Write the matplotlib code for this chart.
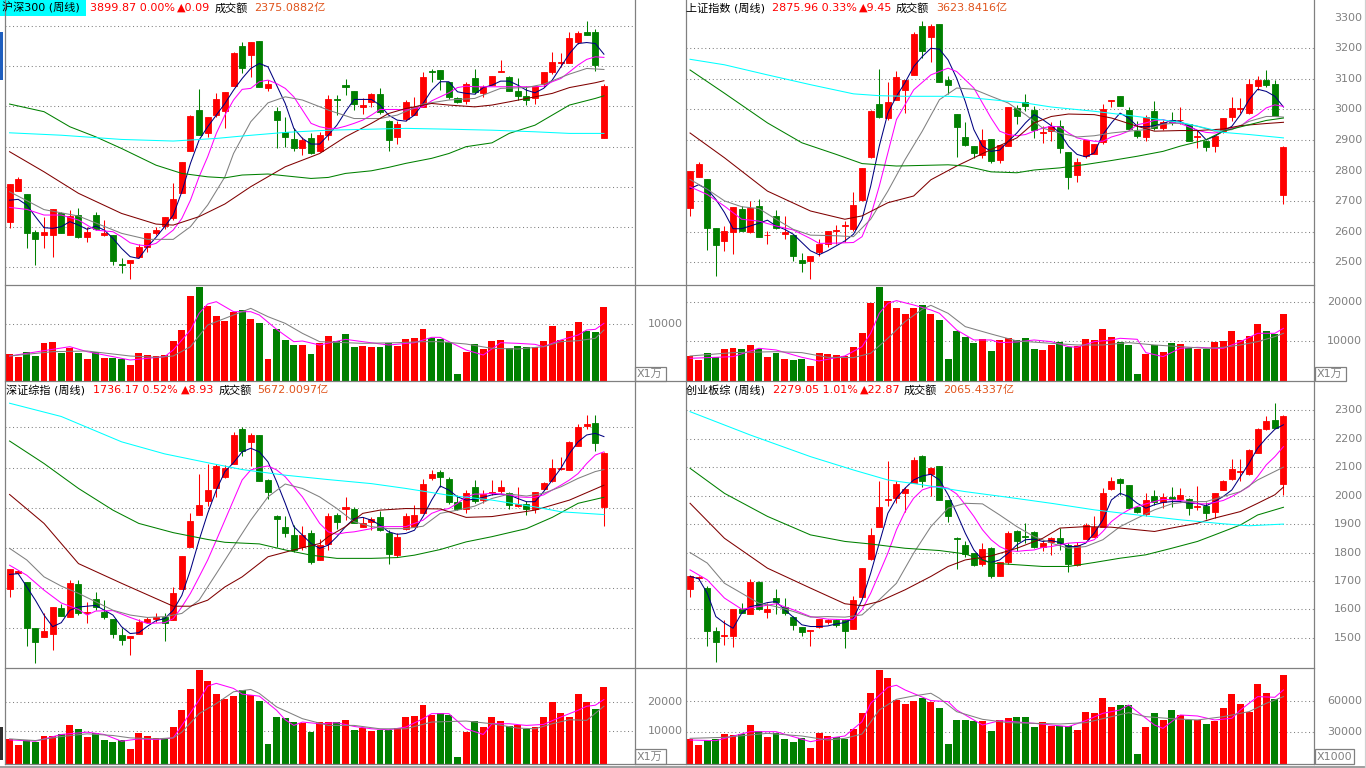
import numpy as np
import matplotlib.pyplot as plt
from matplotlib.lines import Line2D
from matplotlib.patches import Rectangle
from matplotlib.transforms import blended_transform_factory

# ---------------- 沪深300 (周线) ----------------
hs_open = [3227,3381,3364,3174,3160,3160,3268,3160,3260,3149,3260,3159,3160,3018,3023,3049,3099,3172,3205,3243,
           3371,3580,3782,3669,3757,3777,3901,4102,4055,4125,3894,3777,3672,3636,3593,3644,3580,3657,3835,3905,
           3876,3795,3820,3860,3727,3649,3737,3757,3798,3976,3979,3924,3840,3828,3944,3868,3909,3971,3947,3876,
           3851,3840,3911,3972,4015,4017,4121,4171,4170,3644]
hs_high = [3414,3450,3364,3185,3248,3288,3276,3285,3293,3202,3276,3235,3160,3044,3036,3116,3172,3202,3248,3417,
           3522,3757,3885,3749,3865,3871,4072,4122,4122,4125,3931,3795,3749,3691,3649,3666,3674,3856,3856,3939,
           3876,3840,3865,3890,3732,3729,3832,3848,3972,3984,3979,3924,3848,3923,3984,3906,3954,4030,3951,3944,
           3901,3901,3971,4069,4064,4171,4175,4226,4183,3911]
hs_low = [3194,3381,3094,3011,3094,3053,3169,3160,3144,3127,3185,3155,3011,2970,2940,3044,3078,3160,3189,3235,
          3368,3580,3658,3649,3749,3691,3901,3964,3948,3895,3878,3591,3600,3580,3558,3566,3575,3633,3757,3856,
          3782,3765,3798,3765,3580,3613,3729,3757,3798,3923,3880,3835,3815,3812,3861,3848,3906,3971,3878,3832,
          3807,3812,3898,3961,3997,4014,4113,4156,3977,3644]
hs_close = [3414,3439,3172,3139,3174,3288,3169,3255,3149,3177,3189,3169,3033,3012,3036,3099,3172,3185,3248,3338,
            3522,3752,3658,3749,3835,3871,4067,3989,4122,3895,3914,3732,3649,3593,3633,3571,3657,3837,3832,3898,
            3812,3805,3860,3770,3633,3712,3823,3798,3949,3972,3936,3848,3820,3911,3873,3898,3954,3976,3878,3851,
            3832,3901,3971,4020,4019,4143,4165,4156,4007,3901]
hs_vol = [4641,4046,4998,4284,6664,6783,4879,5653,4879,3749,5058,3927,3987,3749,2678,4820,4403,4284,4403,6962,
          8925,14994,16660,13209,11424,10532,12138,12495,10889,10234,3749,9104,7140,6248,6248,4641,6664,7854,6962,8271,
          5950,6069,5950,5950,6545,6129,7319,7497,9104,7557,7319,6843,1071,5058,6426,5593,6962,7140,5653,6069,
          5950,5950,6962,9639,7140,8747,10353,8747,8509,13090]
hs_ma5 = [3334,3338,3310,3252,3197,3194,3202,3227,3210,3189,3205,3185,3144,3094,3053,3044,3102,3149,3202,3260,
          3376,3517,3633,3699,3757,3815,3881,3939,3989,4014,3997,3906,3815,3691,3641,3613,3613,3658,3707,3774,
          3835,3835,3835,3807,3757,3732,3727,3757,3815,3881,3923,3923,3873,3865,3861,3894,3906,3926,3926,3906,
          3881,3868,3890,3931,3997,4063,4113,4118,4113,4060]
hs_ma10_x = [0,2,4,6,8,10,12] + list(range(13, 70))
hs_ma10 = [3298,3288,3260,3260,3235,3185,3177,
           3152,3122,3111,3107,3119,3152,3185,3243,3334,3450,3550,3666,3757,3832,3885,3890,3923,3931,3914,3890,
           3848,3782,3716,3699,3691,3691,3702,3716,3732,3757,3785,3785,3785,3782,3790,3798,3828,3848,3868,3894,
           3901,3898,3898,3898,3898,3898,3898,3898,3898,3901,3923,3939,3972,4006,4034,4047,4044]
hs_ma20_x = [0,4,8,13,16,19,21,23,25,26,28,30,32,34,37,40,43,45,48,51,54,57,60,62,65,67,69]
hs_ma20 = [3376,3287,3255,3169,3139,3139,3202,3310,3450,3566,3724,3818,3848,3832,3782,3740,3740,3757,3812,3832,
           3840,3890,3894,3911,3961,3989,3984]
hs_ma60_x = [0,4,8,13,17,19,22,25,28,32,36,39,42,44,46,49,51,54,56,58,61,63,65,68,69]
hs_ma60 = [3575,3475,3368,3268,3215,3210,3252,3315,3401,3500,3566,3649,3716,3765,3790,3815,3807,3798,3807,3823,
           3848,3865,3894,3918,3928]
hs_ma120_x = [0,4,7,10,13,17,20,23,25,27,30,32,35,37,39,42,44,46,49,51,53,56,58,61,63,65,68,69]
hs_ma120 = [3812,3774,3699,3649,3591,3508,3467,3450,3445,3459,3464,3455,3442,3447,3467,3480,3497,3517,3542,3566,
            3600,3619,3666,3707,3757,3807,3840,3853]
hs_ma250_x = [0,6,13,19,24,27,32,37,42,46,51,56,61,65,69]
hs_ma250 = [3669,3657,3636,3628,3641,3653,3671,3682,3687,3691,3687,3682,3674,3666,3666]
hs_vma5_x = [0,7,9,14,18,19,21,22,23,24,26,28,29,31,33,34,36,39,41,44,47,49,50,53,55,57,59,61,62,64,66,67,68,69]
hs_vma5 = [4284,5950,5058,3570,4165,5355,8925,11900,13566,13983,12198,12198,11603,9044,6843,6962,6248,7259,6843,6248,
           6664,7616,7616,5355,4463,6664,6545,6367,5950,7140,8033,8925,9044,10115]
hs_vma10_x = [0,5,9,14,17,19,21,23,26,28,30,32,34,36,41,45,48,50,53,56,59,62,64,66,68,69]
hs_vma10 = [4284,5058,5177,4284,4046,4284,5950,9818,11603,12793,11305,10115,8330,6843,6545,6664,6843,6843,6426,5653,
            5534,5950,6843,7021,7438,8925]

# ---------------- 上证指数 (周线) ----------------
sh_open = [2678,2779,2771,2613,2570,2600,2673,2600,2685,2588,2652,2594,2591,2509,2503,2535,2559,2603,2618,2608,
           2703,2844,3019,2971,3030,3062,3114,3273,3236,3279,3095,2986,2909,2879,2850,2904,2836,2882,3005,3024,
           2999,2924,2929,2947,2860,2785,2847,2853,2893,3027,3044,2999,2931,2910,2996,2939,2964,2964,2954,2909,
           2896,2880,2931,2974,3003,2988,3077,3095,3084,2720]
sh_high = [2800,2829,2771,2613,2619,2681,2684,2701,2706,2603,2671,2650,2591,2532,2520,2578,2602,2623,2635,2730,
           2807,2999,3132,3091,3126,3095,3254,3289,3278,3279,3110,2986,2958,2879,2936,2904,2885,3007,3014,3050,
           3012,2945,2958,2967,2860,2842,2901,2888,3019,3032,3044,3008,2961,2981,3028,2967,2993,3008,2954,2934,
           2901,2914,2971,3040,3037,3099,3108,3129,3097,2880]
sh_low = [2650,2779,2541,2456,2538,2527,2603,2597,2583,2559,2608,2576,2505,2469,2445,2521,2549,2559,2565,2603,
          2700,2842,2972,2967,3030,2990,3114,3167,3155,3089,3051,2844,2880,2842,2842,2825,2825,2880,2952,2994,
          2907,2891,2896,2856,2739,2762,2842,2853,2888,3008,3010,2932,2906,2896,2934,2932,2950,2953,2896,2874,
          2863,2860,2923,2961,2988,2985,3062,3075,2980,2690]
sh_close = [2800,2823,2612,2557,2602,2681,2603,2679,2583,2591,2614,2600,2521,2497,2520,2559,2602,2606,2621,2686,
            2807,2996,2974,3025,3106,3095,3247,3191,3273,3089,3081,2942,2885,2857,2901,2831,2885,3007,2980,3012,
            2934,2927,2947,2874,2779,2828,2901,2888,3001,3032,3010,2935,2912,2975,2939,2958,2958,2967,2896,2912,
            2878,2914,2971,3005,3006,3084,3095,3079,2980,2876]
sh_vol = [6239,5214,7009,5897,8034,8291,8120,9060,8034,5983,7009,5470,5214,5470,3675,7009,6752,6410,6239,8547,
          12137,19829,24017,20342,18547,17009,18632,19316,17009,15470,5470,12650,11026,9573,10513,7521,10342,10855,10256,10855,
          8034,7778,8974,9829,8547,8803,10598,10256,13162,11026,9829,9060,1624,6752,8974,7265,9573,9316,8291,7949,
          8034,9829,10085,12650,10342,11368,14444,12650,11966,17096]
sh_ma5 = [2741,2754,2739,2706,2663,2610,2610,2619,2628,2638,2619,2608,2592,2565,2538,2525,2538,2554,2570,2592,
          2641,2749,2880,2988,3043,3088,3140,3173,3200,3197,3162,3102,3026,2934,2880,2863,2867,2896,2923,2956,
          2983,2967,2947,2923,2880,2853,2845,2858,2918,2956,2988,2972,2945,2943,2947,2954,2964,2961,2945,2931,
          2901,2912,2929,2945,2983,3032,3066,3059,3043,3008]
sh_ma10_x = [0,2,4,6,8,10,12,14,15,17,19,20,21,22,23,24,26,28,30,31] + list(range(33, 70))
sh_ma10 = [2747,2722,2684,2641,2635,2619,2606,2578,2562,2563,2565,2584,2652,2749,2858,2967,3064,3113,3135,3124,
           3070,3021,2972,2929,2918,2914,2918,2929,2939,2945,2943,2923,2907,2901,2896,2896,2910,2918,2929,2950,
           2956,2964,2967,2958,2954,2943,2932,2925,2923,2929,2939,2945,2967,2983,3005,3015,3010]
sh_ma20_x = [0,2,4,6,8,10,12,14,17,19,21,23,25,27,29,31,33,35,37,39,41,43,45,47,49,51,53,55,57,59,61,63,65,67,68,69]
sh_ma20 = [2771,2739,2701,2682,2676,2641,2608,2589,2587,2584,2641,2733,2836,2929,3032,3070,3066,3043,3021,2983,
           2939,2923,2910,2914,2923,2929,2934,2952,2956,2945,2929,2934,2961,2977,2977,2975]
sh_ma60_x = [0,4,9,14,18,20,23,26,28,31,35,38,40,42,44,47,49,52,54,57,59,62,64,67,69]
sh_ma60 = [2923,2842,2733,2668,2641,2652,2695,2717,2770,2815,2869,2907,2956,2977,2985,2983,2972,2945,2929,2931,
           2931,2936,2947,2954,2958]
sh_ma120_x = [0,4,9,13,17,20,24,27,30,32,35,38,40,43,46,49,52,55,57,60,62,65,67,69]
sh_ma120 = [3129,3053,2956,2891,2853,2823,2815,2817,2819,2815,2796,2793,2802,2809,2820,2833,2847,2863,2880,2901,
            2929,2950,2964,2972]
sh_ma250_x = [0,4,9,14,19,22,25,30,32,35,39,42,47,52,57,60,62,65,69]
sh_ma250 = [3164,3146,3113,3081,3051,3045,3043,3043,3040,3032,3021,3008,2994,2977,2958,2939,2925,2918,2907]
sh_vma5_x = [0,5,8,10,13,15,18,20,21,22,23,24,26,28,29,31,33,35,36,38,40,42,44,45,47,49,50,52,53,55,57,59,61,62,64,66,68,69]
sh_vma5 = [5641,6068,8205,7778,5897,4957,6239,8632,12051,17179,19744,20427,19316,18034,17179,12906,10342,10342,9658,9829,
           10342,9914,8632,8462,9914,10342,10769,10513,7094,6068,8205,8462,8205,8205,9914,12051,12051,13333]
sh_vma10_x = [0,5,10,13,16,19,21,23,25,27,28,30,32,35,38,42,45,48,51,54,57,60,62,64,66,68,69]
sh_vma10 = [6239,7094,7350,7094,5897,5812,6923,10769,15043,18205,19231,17179,13761,11880,10085,9487,9060,9060,9658,9060,
            8632,8205,8462,9060,9914,11197,12051]

# ---------------- 深证综指 (周线) ----------------
sz_open = [1398,1437,1416,1300,1279,1285,1350,1327,1410,1339,1374,1341,1324,1283,1275,1287,1315,1324,1327,1320,
           1399,1503,1582,1617,1650,1676,1709,1796,1764,1781,1669,1579,1553,1532,1503,1536,1471,1510,1582,1598,
           1598,1553,1565,1576,1536,1482,1546,1553,1586,1673,1689,1671,1615,1598,1651,1619,1636,1641,1636,1605,
           1609,1598,1647,1666,1697,1694,1754,1803,1810,1602]
sz_high = [1447,1445,1416,1300,1337,1352,1360,1420,1420,1366,1390,1370,1324,1302,1280,1324,1329,1337,1337,1403,
           1480,1586,1685,1710,1710,1706,1789,1800,1785,1781,1671,1582,1579,1557,1554,1544,1521,1586,1588,1626,
           1601,1576,1578,1593,1544,1538,1588,1607,1671,1694,1695,1677,1632,1644,1669,1644,1669,1669,1640,1651,
           1617,1640,1665,1720,1725,1766,1808,1831,1831,1739]
sz_low = [1378,1437,1256,1214,1279,1247,1330,1327,1333,1314,1345,1324,1277,1258,1233,1287,1312,1316,1269,1320,
          1399,1503,1582,1604,1627,1673,1709,1729,1704,1667,1621,1503,1528,1490,1495,1461,1470,1495,1546,1569,
          1561,1551,1544,1543,1461,1478,1544,1553,1586,1669,1652,1609,1594,1588,1611,1612,1632,1636,1598,1602,
          1582,1588,1644,1665,1694,1694,1754,1795,1742,1554]
sz_close = [1447,1442,1300,1266,1293,1352,1330,1412,1337,1341,1354,1327,1285,1272,1280,1316,1323,1327,1312,1389,
            1480,1567,1607,1644,1704,1698,1781,1742,1781,1667,1640,1571,1536,1496,1532,1466,1507,1579,1565,1601,
            1563,1563,1573,1544,1485,1528,1579,1582,1658,1683,1677,1615,1598,1636,1617,1634,1640,1651,1607,1609,
            1596,1640,1661,1700,1700,1764,1800,1808,1760,1736]
sz_vol = [7418,5620,7194,6519,8655,8542,8992,12027,10678,8093,9329,7306,6407,7194,4271,9329,8655,7868,7643,11352,
          17085,24166,30573,26864,22480,20794,21806,23829,22030,20120,5957,14724,14387,13038,12701,9666,13038,13038,13038,13713,
          10341,11015,10004,10341,10341,11015,14724,15062,18771,15399,16298,15399,1574,9666,13376,11352,14724,13376,11690,12027,
          10678,11465,14724,19782,16073,14724,22480,19782,17422,24953]
sz_ma5 = [1434,1436,1403,1370,1333,1304,1314,1345,1353,1355,1357,1345,1333,1304,1287,1289,1305,1319,1324,1345,
          1382,1445,1519,1586,1644,1690,1712,1739,1748,1739,1714,1665,1611,1553,1532,1511,1499,1507,1528,1553,
          1573,1576,1569,1557,1540,1534,1536,1544,1578,1619,1654,1644,1627,1619,1621,1626,1632,1634,1632,1623,
          1615,1615,1640,1669,1698,1735,1764,1781,1785,1777]
sz_ma10_x = [0,2,4,6,8,9,10,12,14,16,18] + list(range(19, 70))
sz_ma10 = [1457,1432,1395,1363,1347,1333,1343,1344,1327,1312,1314,
           1324,1353,1387,1428,1470,1519,1569,1619,1669,1694,1700,1704,1694,1677,1652,1627,1594,1561,1540,1534,
           1538,1540,1544,1548,1553,1553,1553,1553,1561,1569,1586,1594,1598,1611,1627,1634,1634,1636,1634,1632,
           1627,1626,1626,1632,1644,1656,1669,1685,1710,1731,1739]
sz_ma20_x = list(range(0, 70, 2)) + [69]
sz_ma20 = [1499,1470,1428,1405,1387,1366,1345,1333,1327,1329,1337,1370,1436,1503,1569,1627,1659,1648,1627,1598,
           1565,1553,1548,1548,1554,1586,1594,1604,1623,1634,1629,1636,1652,1673,1690,1695]
sz_ma60_x = [0,4,8,13,17,19,21,23,25,27,30,33,36,37,39,41,43,46,50,53,56,61,65,69]
sz_ma60 = [1633,1561,1461,1412,1374,1355,1355,1370,1403,1428,1478,1495,1511,1528,1553,1586,1594,1598,1597,1576,
           1578,1594,1619,1656]
sz_ma120_x = [0,4,8,12,15,19,23,25,29,32,35,38,42,45,47,50,53,56,60,63,66,69]
sz_ma120 = [1766,1710,1648,1594,1561,1538,1521,1514,1510,1495,1482,1474,1474,1476,1482,1496,1515,1528,1548,1576,
            1611,1626]
sz_ma250_x = [0,6,13,18,23,27,32,37,42,46,51,56,61,64,69]
sz_ma250 = [1860,1827,1764,1734,1712,1695,1681,1670,1660,1648,1631,1619,1602,1590,1583]
sz_vma5_x = [0,3,6,9,11,13,15,17,19,20,22,23,24,26,27,29,31,32,33,34,36,38,40,42,44,46,48,49,51,53,55,56,58,60,62,64,66,67,68,69]
sz_vma5 = [7194,6744,8992,9779,8992,6744,7531,7306,7868,12027,20457,25178,26077,24391,22480,21806,17085,13938,12027,13151,
           12589,12926,11690,10903,10566,11465,14275,15961,15961,10903,8992,12589,12589,12027,12364,14837,17085,18434,18771,20682]
sz_vma10_x = [0,3,6,9,12,14,17,19,20,22,24,26,28,29,31,34,37,40,43,46,49,53,56,59,61,63,65,67,69]
sz_vma10 = [7531,6969,8318,9217,8655,7868,7531,7868,9779,15961,19333,23267,24054,22705,18209,14275,12027,12027,10903,10903,
            13151,13488,12589,11128,10903,12589,13938,13713,18434]

# ---------------- 创业板综 (周线) ----------------
cy_open = [1671,1709,1676,1525,1505,1508,1603,1583,1696,1590,1640,1608,1575,1540,1525,1538,1557,1564,1564,1533,
           1645,1777,1888,1985,1993,2009,2046,2140,2076,2105,1985,1850,1827,1800,1760,1815,1718,1768,1876,1859,
           1873,1821,1838,1850,1827,1757,1849,1856,1891,2024,2058,2038,1959,1936,2000,1976,1994,1987,1989,1961,
           1965,1941,2020,2058,2083,2075,2151,2233,2266,2041]
cy_high = [1720,1716,1681,1540,1564,1601,1624,1706,1699,1624,1671,1640,1578,1540,1528,1566,1566,1566,1566,1648,
           1746,1886,2053,2120,2050,2030,2137,2143,2102,2105,1985,1854,1842,1800,1835,1821,1768,1874,1880,1905,
           1874,1845,1856,1886,1835,1836,1905,1929,2026,2067,2062,2038,1959,2009,2018,2009,2030,2026,1991,2034,
           1979,2009,2055,2128,2128,2164,2237,2280,2325,2283]
cy_low = [1645,1704,1473,1415,1476,1468,1587,1583,1599,1569,1585,1581,1528,1505,1472,1534,1550,1540,1464,1533,
          1643,1774,1888,1962,1973,1944,2044,2030,1997,1983,1909,1743,1786,1753,1753,1710,1716,1760,1807,1833,
          1815,1807,1792,1809,1730,1753,1847,1856,1891,2020,2003,1952,1938,1929,1968,1956,1959,1976,1932,1948,
          1917,1921,2018,2055,2050,2073,2149,2229,2237,2003]
cy_close = [1718,1713,1523,1487,1511,1601,1587,1697,1601,1602,1626,1587,1544,1520,1528,1566,1564,1546,1526,1634,
            1746,1862,1960,1987,2040,2023,2126,2050,2097,1985,1929,1847,1795,1757,1812,1716,1768,1870,1839,1854,
            1821,1835,1850,1833,1760,1827,1895,1891,2009,2053,2044,1958,1944,1985,1977,1994,1987,2001,1958,1965,
            1938,2009,2052,2093,2086,2161,2233,2261,2237,2279]
cy_vol = [22827,17283,22175,22827,28045,27066,27719,36849,30980,25110,28697,22827,20544,23805,14348,29023,26088,24784,22827,32936,
          48915,68155,90656,82829,61307,57720,60655,63264,59677,53718,18262,41735,41735,40757,40757,30980,41735,43692,44670,44670,
          34566,39784,35544,35544,36197,32284,49567,48589,63264,54457,56740,56414,8478,34892,48589,41735,51524,46632,41735,41735,
          38148,40757,53805,67176,57720,49893,76959,67828,62284,85760]
cy_ma5 = [1716,1708,1657,1575,1552,1534,1587,1610,1616,1624,1628,1599,1573,1546,1540,1540,1542,1549,1554,1569,
          1634,1727,1833,1938,1991,2026,2055,2069,2075,2055,2003,1938,1868,1809,1774,1765,1774,1798,1827,1845,
          1847,1839,1842,1835,1821,1821,1833,1868,1915,1985,2008,1997,1973,1956,1968,1976,1979,1979,1973,1973,
          1964,1979,1997,2020,2067,2114,2167,2202,2233,2249]
cy_ma10_x = [0,2,4,6,8,10,12,14,16,18] + list(range(19, 70))
cy_ma10 = [1739,1704,1640,1601,1610,1620,1599,1575,1566,1564,
           1566,1599,1657,1727,1798,1880,1944,1991,2020,2030,2032,2026,2006,1968,1927,1880,1845,1821,1807,1804,
           1807,1809,1818,1821,1827,1833,1835,1836,1845,1874,1909,1932,1950,1962,1971,1979,1987,1985,1983,1979,
           1971,1971,1976,1983,1997,2014,2032,2067,2108,2137,2172]
cy_ma20_x = list(range(0, 70, 2)) + [69]
cy_ma20 = [1800,1763,1692,1657,1622,1610,1593,1573,1575,1573,1581,1634,1692,1798,1891,1956,1973,1971,1932,1891,
           1856,1833,1815,1821,1845,1891,1921,1950,1971,1979,1979,1997,2014,2055,2085,2100]
cy_ma60_x = [0,4,9,14,18,20,22,25,28,30,32,35,38,41,43,46,49,52,54,56,59,61,64,66,68,69]
cy_ma60 = [1973,1850,1745,1675,1620,1613,1628,1669,1716,1751,1774,1788,1815,1850,1886,1891,1889,1880,1874,1886,
           1903,1921,1944,1973,2003,2030]
cy_ma120_x = [0,4,9,14,18,21,25,29,32,35,38,41,44,47,50,53,56,59,61,64,66,69]
cy_ma120 = [2096,2008,1927,1862,1839,1830,1815,1807,1795,1763,1757,1751,1751,1765,1780,1792,1815,1839,1862,1897,
            1932,1959]
cy_ma250_x = [0,7,14,19,23,27,32,37,42,47,52,57,62,65,69]
cy_ma250 = [2295,2213,2137,2090,2055,2038,2014,1994,1973,1950,1932,1915,1901,1894,1900]
cy_vma5_x = [0,3,7,10,14,16,18,20,21,23,24,25,28,30,31,33,34,36,38,40,42,44,46,48,50,51,52,54,55,57,59,61,63,64,66,68,69]
cy_vma5 = [22175,21523,30327,30327,20544,23805,26088,40110,58046,73699,75655,71090,60655,59677,51524,41741,36849,41089,39784,38480,
           36849,35219,41089,48263,51524,56415,49893,36849,33588,46632,45654,41741,43371,51524,64568,63916,71090]
cy_vma10_x = [0,4,9,13,16,18,20,22,24,26,28,29,31,34,37,40,43,46,49,51,53,56,59,62,65,67,69]
cy_vma10 = [23805,24784,28697,26088,22175,23805,28045,51524,61959,65220,67829,62937,49893,42393,39132,38480,37828,39132,45002,48915,
            45002,43045,41741,45002,49893,58046,64568]

# ---------------- look ----------------
W, H = 1366, 768
RED, GREEN = '#ff0000', '#008000'
LINE = '#808080'
FONT = ['DejaVu Sans', 'Noto Sans CJK SC']
MA_COLORS = ['#000080', '#ff00ff', '#808080', '#800000', '#008000', '#00ffff']
DOTS = (0, (1, 2.6))

fig = plt.figure(figsize=(W / 100, H / 100), dpi=100)


def add_ax(x0, y0, x1, y1):
    ax = fig.add_axes([x0 / W, 1 - y1 / H, (x1 - x0) / W, (y1 - y0) / H])
    ax.set_axis_off()
    ax.set_xlim(-0.53, 72.55)
    return ax


def fig_line(x0, y0, x1, y1, color=LINE, lw=0.9):
    fig.add_artist(Line2D([x0 / W, x1 / W], [1 - y0 / H, 1 - y1 / H],
                          transform=fig.transFigure, color=color, lw=lw))


def fig_rect(x0, y0, x1, y1, **kw):
    fig.add_artist(Rectangle((x0 / W, 1 - y1 / H), (x1 - x0) / W, (y1 - y0) / H,
                             transform=fig.transFigure, **kw))


def right_labels(ax, values, x_px):
    tr = blended_transform_factory(ax.transAxes, ax.transData)
    for v in values:
        ax.text(x_px, v, str(v), transform=tr, ha='right', va='center',
                color=LINE, fontsize=8, family=FONT, clip_on=False)


panels = [
    dict(px=(5, 634.5), top=18, mid=285, bot=381,
         o=hs_open, h=hs_high, l=hs_low, c=hs_close, v=hs_vol,
         ma=[(range(70), hs_ma5), (hs_ma10_x, hs_ma10), (hs_ma20_x, hs_ma20),
             (hs_ma60_x, hs_ma60), (hs_ma120_x, hs_ma120), (hs_ma250_x, hs_ma250)],
         vma=[(hs_vma5_x, hs_vma5), (hs_vma10_x, hs_vma10)],
         ylim=(2912, 4240), grid=range(3000, 4201, 200), plabels=[],
         vylim=(-179, 16964), vgrid=[10000], unit='X1万',
         title=[(2, '沪深300 (周线)', 'black'), (90, '3899.87 0.00%', RED), (177, '▲0.09', RED),
                (215, '成交额', 'black'), (254, '2375.0882亿', '#e0541c')], ty=8, hl=(0, 0, 86, 16)),
    dict(px=(685.5, 1314), top=18, mid=285, bot=381,
         o=sh_open, h=sh_high, l=sh_low, c=sh_close, v=sh_vol,
         ma=[(range(70), sh_ma5), (sh_ma10_x, sh_ma10), (sh_ma20_x, sh_ma20),
             (sh_ma60_x, sh_ma60), (sh_ma120_x, sh_ma120), (sh_ma250_x, sh_ma250)],
         vma=[(sh_vma5_x, sh_vma5), (sh_vma10_x, sh_vma10)],
         ylim=(2426, 3299), grid=range(2500, 3201, 100), plabels=list(range(2500, 3301, 100)),
         vylim=(-180, 24436), vgrid=[10000, 20000], unit='X1万',
         title=[(686, '上证指数 (周线)', 'black'), (772, '2875.96 0.33%', RED), (859, '▲9.45', RED),
                (896, '成交额', 'black'), (936, '3623.8416亿', '#e0541c')], ty=8, hl=None),
    dict(px=(5, 634.5), top=398, mid=667.5, bot=763.5,
         o=sz_open, h=sz_high, l=sz_low, c=sz_close, v=sz_vol,
         ma=[(range(70), sz_ma5), (sz_ma10_x, sz_ma10), (sz_ma20_x, sz_ma20),
             (sz_ma60_x, sz_ma60), (sz_ma120_x, sz_ma120), (sz_ma250_x, sz_ma250)],
         vma=[(sz_vma5_x, sz_vma5), (sz_vma10_x, sz_vma10)],
         ylim=(1202.5, 1873), grid=range(1300, 1801, 100), plabels=[],
         vylim=(-700, 31380), vgrid=[10000, 20000], unit='X1万',
         title=[(6, '深证综指 (周线)', 'black'), (93, '1736.17 0.52%', RED), (181, '▲8.93', RED),
                (219, '成交额', 'black'), (257, '5672.0097亿', '#e0541c')], ty=390, hl=None),
    dict(px=(685.5, 1314), top=398, mid=667.5, bot=763.5,
         o=cy_open, h=cy_high, l=cy_low, c=cy_close, v=cy_vol,
         ma=[(range(70), cy_ma5), (cy_ma10_x, cy_ma10), (cy_ma20_x, cy_ma20),
             (cy_ma60_x, cy_ma60), (cy_ma120_x, cy_ma120), (cy_ma250_x, cy_ma250)],
         vma=[(cy_vma5_x, cy_vma5), (cy_vma10_x, cy_vma10)],
         ylim=(1396, 2343), grid=range(1500, 2301, 100), plabels=list(range(1500, 2301, 100)),
         vylim=(-782, 93029), vgrid=[30000, 60000], unit='X1000',
         title=[(686, '创业板综 (周线)', 'black'), (773, '2279.05 1.01%', RED), (860, '▲22.87', RED),
                (904, '成交额', 'black'), (943, '2065.4337亿', '#e0541c')], ty=390, hl=None),
]

for p in panels:
    x0, x1 = p['px']
    lab_x = 1 + 48 / (x1 - x0)
    o, h, l, c = (np.asarray(p[k], dtype=float) for k in 'ohlc')
    idx = np.arange(len(o))
    col = np.where(c >= o, RED, GREEN)

    # price pane
    ax = add_ax(x0, p['top'], x1, p['mid'])
    ax.set_ylim(*p['ylim'])
    for g in p['grid']:
        ax.axhline(g, color=LINE, lw=0.75, ls=DOTS, zorder=0)
    ax.vlines(idx, l, h, colors=col, lw=0.75, zorder=3)
    ax.bar(idx, np.abs(c - o), bottom=np.minimum(o, c), width=0.7,
           color=col, edgecolor=col, lw=0.6, zorder=4)
    for (mx, mv), mc in zip(p['ma'], MA_COLORS):
        ax.plot(list(mx), mv, color=mc, lw=0.75, zorder=5)
    right_labels(ax, p['plabels'], lab_x)

    # volume pane
    vax = add_ax(x0, p['mid'], x1, p['bot'])
    lo, hi = p['vylim']
    vax.set_ylim(lo, hi)
    for g in p['vgrid']:
        vax.axhline(g, color=LINE, lw=0.75, ls=DOTS, zorder=0)
    vol = np.asarray(p['v'], dtype=float)
    vax.bar(idx, vol - lo, bottom=lo, width=0.8, color=col, lw=0, zorder=3)
    for (mx, mv), mc in zip(p['vma'], ['#ff00ff', '#808080']):
        vax.plot(mx, mv, color=mc, lw=0.75, zorder=5)
    right_labels(vax, p['vgrid'], lab_x)

    # unit box
    bw = 31 if p['unit'] == 'X1万' else 39
    fig_rect(x1 + 0.5, p['bot'] - 14.5, x1 + 0.5 + bw, p['bot'], facecolor='white',
             edgecolor=LINE, lw=0.9)
    fig.text((x1 + 2.5) / W, 1 - (p['bot'] - 7) / H, p['unit'], color=LINE, fontsize=8,
             family=FONT, va='center', ha='left')

    # title row
    if p['hl']:
        fig_rect(p['hl'][0], p['hl'][1], p['hl'][2], p['hl'][3], color='#00ffff', lw=0)
    for tx, s, tc in p['title']:
        fig.text(tx / W, 1 - p['ty'] / H, s, color=tc, fontsize=8, family=FONT,
                 va='center', ha='left')

# frame lines
for xv in (5, 634.5, 685.5, 1314):
    fig_line(xv, 0, xv, 764)
for yv in (285, 381, 667.5, 763.5):
    fig_line(5, yv, 1314, yv)
fig_line(1365, 0, 1365, 768, color='#d0d0d0')
fig_rect(0, 765.5, W, H, color='#a0a0a0', lw=0)
fig_rect(0, 32, 3, 80, color='#1f5fbf', lw=0)
fig_rect(0, 727, 3, 760, color='#303030', lw=0)

fig.savefig('out.png', dpi=100)
